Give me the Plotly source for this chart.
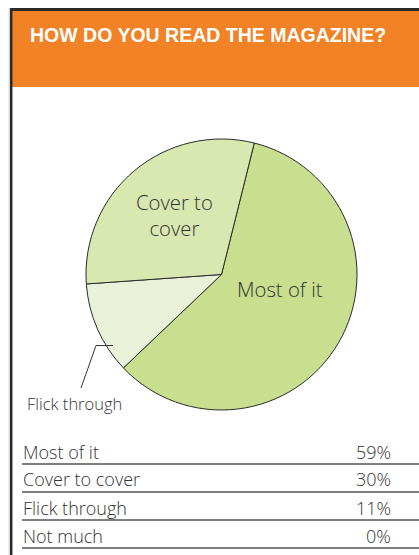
import plotly.graph_objects as go

W, H = 419, 555

# ---- data ----
title_text = "HOW DO YOU READ THE MAGAZINE?"
pie_labels = ["Most of it", "Flick through", "Cover to cover"]
pie_values = [59, 11, 30]
pie_colors = ["#c9de8f", "#e9f2d9", "#d9e8b0"]

table_labels = ["Most of it", "Cover to cover", "Flick through", "Not much"]
table_values = ["59%", "30%", "11%", "0%"]


def px(x):
    return x / W


def py(y):
    return 1 - y / H


fig = go.Figure()

# pie
cx, cy, r = 221.5, 274.5, 135.5
fig.add_trace(go.Pie(
    labels=pie_labels,
    values=pie_values,
    sort=False,
    direction="clockwise",
    rotation=14,
    marker=dict(colors=pie_colors, line=dict(color="#2b2b2b", width=1)),
    textinfo="none",
    hoverinfo="label+percent",
    showlegend=False,
    domain=dict(x=[px(cx - r), px(cx + r)], y=[py(cy + r), py(cy - r)]),
))

shapes = []
annotations = []

# frame
shapes.append(dict(type="rect", xref="paper", yref="paper",
                   x0=px(12), x1=1.0, y0=py(87), y1=py(10),
                   fillcolor="#f28226", line=dict(width=0), layer="below"))
shapes.append(dict(type="line", xref="paper", yref="paper",
                   x0=px(11), x1=1.0, y0=py(9.5), y1=py(9.5),
                   line=dict(color="#2a2a2a", width=3)))
shapes.append(dict(type="line", xref="paper", yref="paper",
                   x0=px(11.2), x1=px(11.2), y0=0, y1=py(8),
                   line=dict(color="#2a2a2a", width=2.5)))
shapes.append(dict(type="line", xref="paper", yref="paper",
                   x0=px(9.2), x1=px(9.2), y0=0, y1=py(8),
                   line=dict(color="#c8c8c8", width=1)))

annotations.append(dict(text="<b>" + title_text + "</b>", xref="paper", yref="paper",
                        x=px(27.5), y=py(35), xanchor="left", yanchor="middle",
                        showarrow=False,
                        font=dict(family="Liberation Sans, Arial", size=19.5, color="white")))

# pie labels
lab_font = dict(family="Open Sans", size=20.3, color="#333333", weight=300)
annotations.append(dict(text=pie_labels[0], xref="paper", yref="paper",
                        x=px(280), y=py(289), xanchor="center", yanchor="middle",
                        showarrow=False, font=lab_font))
annotations.append(dict(text=pie_labels[2].replace("to ", "to<br>"), xref="paper", yref="paper",
                        x=px(174.5), y=py(215), xanchor="center", yanchor="middle",
                        showarrow=False, font=lab_font))
annotations.append(dict(text=pie_labels[1], xref="paper", yref="paper",
                        x=px(25), y=py(403), xanchor="left", yanchor="middle",
                        showarrow=False,
                        font=dict(family="Open Sans", size=16.5, color="#333333", weight=300)))

# leader line
shapes.append(dict(type="path", xref="paper", yref="paper",
                   path=f"M {px(113)},{py(345.5)} L {px(96)},{py(345.5)} L {px(81)},{py(388)}",
                   line=dict(color="#333333", width=1)))

# table
row_font = dict(family="Open Sans", size=18, color="#333333", weight=300)
first_line = 464
row_gap = 28
for i, (lab, val) in enumerate(zip(table_labels, table_values)):
    ly = first_line + i * row_gap
    annotations.append(dict(text=lab, xref="paper", yref="paper",
                            x=px(20.5), y=py(ly - 12.5), xanchor="left", yanchor="middle",
                            showarrow=False, font=row_font))
    annotations.append(dict(text=val, xref="paper", yref="paper",
                            x=px(392.5), y=py(ly - 12.5), xanchor="right", yanchor="middle",
                            showarrow=False, font=row_font))
    shapes.append(dict(type="line", xref="paper", yref="paper",
                       x0=px(22), x1=1.0, y0=py(ly), y1=py(ly),
                       line=dict(color="#555555", width=1.5)))

fig.update_layout(
    width=W, height=H,
    margin=dict(l=0, r=0, t=0, b=0),
    paper_bgcolor="white", plot_bgcolor="white",
    shapes=shapes, annotations=annotations,
)

fig.write_html("out.html")
